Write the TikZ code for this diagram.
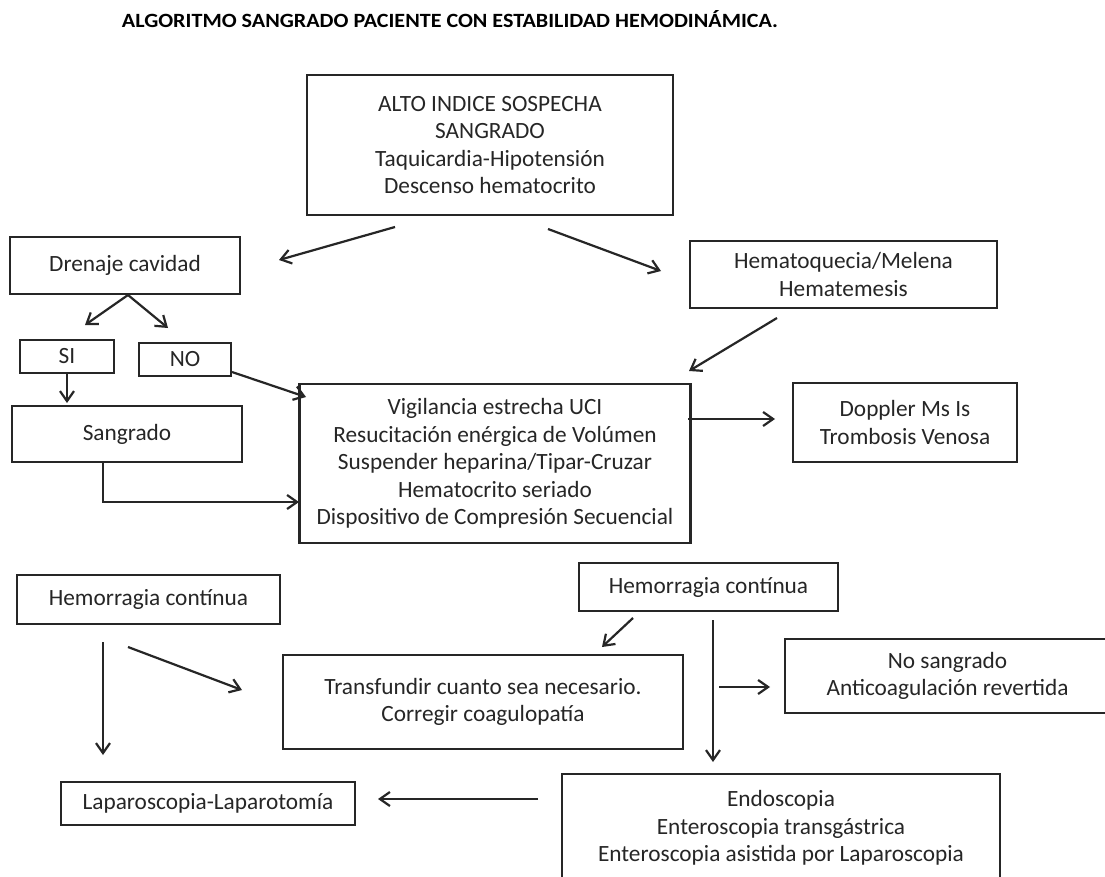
\documentclass[tikz,border=0pt]{standalone}
\usepackage{fontspec}
\setmainfont{Carlito}
\usetikzlibrary{arrows.meta}

\tikzset{
  box/.style={draw=black!85, line width=2.2pt, inner sep=0pt, align=center,
    font=\fontsize{23.3}{27.5}\selectfont, text=black!85},
  link/.style={draw=black!85, line width=2.2pt,
    -{Straight Barb[length=10pt,width=14pt,line width=2.2pt]}},
}

\begin{document}
\begin{tikzpicture}[x=1pt,y=-1pt]
\useasboundingbox (0,0) rectangle (1105,877);
\clip (0,0) rectangle (1105,877);
\fill[white] (0,0) rectangle (1105,877);

% heading
\node[anchor=base, inner sep=0pt] (title) at (450,28)
  {\resizebox{656pt}{17pt}{\bfseries ALGORITMO SANGRADO PACIENTE CON ESTABILIDAD HEMODINÁMICA.}};

% boxes
\node[box, minimum width=366pt, minimum height=140pt] (alto) at (490,145)
  {ALTO INDICE SOSPECHA\\SANGRADO\\Taquicardia-Hipotensión\\Descenso hematocrito};
\node[box, minimum width=230pt, minimum height=57pt] (dren) at (125,265.5) {Drenaje cavidad};
\node[box, minimum width=307pt, minimum height=67pt] (hemat) at (843.5,274.5)
  {Hematoquecia/Melena\\Hematemesis};
\node[box, minimum width=94pt, minimum height=33pt] (si) at (67,356.5) {SI};
\node[box, minimum width=92pt, minimum height=33pt] (no) at (185,359.5) {NO};
\node[box, minimum width=230pt, minimum height=56pt] (sang) at (127,434) {Sangrado};
\node[box, minimum width=391pt, minimum height=159pt] (vig) at (495,463.5)
  {Vigilancia estrecha UCI\\Resucitación enérgica de Volúmen\\Suspender heparina/Tipar-Cruzar\\Hematocrito seriado\\Dispositivo de Compresión Secuencial};
\node[box, minimum width=224pt, minimum height=79pt] (dopp) at (905,422.5)
  {Doppler Ms Is\\Trombosis Venosa};
\node[box, minimum width=263pt, minimum height=49pt] (hemL) at (148.5,599.5) {Hemorragia contínua};
\node[box, minimum width=259pt, minimum height=48pt] (hemR) at (708.5,587) {Hemorragia contínua};
\node[box, minimum width=400pt, minimum height=94pt] (transf) at (483,702)
  {Transfundir cuanto sea necesario.\\Corregir coagulopatía};
\node[box, minimum width=325pt, minimum height=74pt] (nosang) at (947.5,676)
  {No sangrado\\Anticoagulación revertida};
\node[box, minimum width=294pt, minimum height=43pt] (lap) at (208,803.5) {Laparoscopia-Laparotomía};
\node[box, minimum width=438pt, minimum height=108pt] (endo) at (781,828)
  {Endoscopia\\Enteroscopia transgástrica\\Enteroscopia asistida por Laparoscopia};

% connector end points
\coordinate (p1s) at (395,227);   \coordinate (p1e) at (279,260);
\coordinate (p2s) at (548,229);   \coordinate (p2e) at (661,271);
\coordinate (p3s) at (128,295);   \coordinate (p3e) at (85,325);
\coordinate (p4e) at (168,328);
\coordinate (p5s) at (67,373);    \coordinate (p5e) at (67,403);
\coordinate (p6s) at (232,372);   \coordinate (p6e) at (306,397);
\coordinate (p7s) at (103,462);   \coordinate (p7e) at (299,502);
\coordinate (p8s) at (777,318);   \coordinate (p8e) at (689,371);
\coordinate (p9s) at (688,419);   \coordinate (p9e) at (775,419);
\coordinate (p10s) at (103,642);  \coordinate (p10e) at (103,755);
\coordinate (p11s) at (128,647);  \coordinate (p11e) at (242,690);
\coordinate (p12s) at (633,618);  \coordinate (p12e) at (602,647);
\coordinate (p13s) at (713,620);  \coordinate (p13e) at (713,762);
\coordinate (p14s) at (719,687);  \coordinate (p14e) at (770,687);
\coordinate (p15s) at (538,799);  \coordinate (p15e) at (378,799);

% connectors
\draw[link] (p1s) -- (p1e);
\draw[link] (p2s) -- (p2e);
\draw[link] (p3s) -- (p3e);
\draw[link] (p3s) -- (p4e);
\draw[link] (p5s) -- (p5e);
\draw[link] (p6s) -- (p6e);
\draw[link] (p7s) |- (p7e);
\draw[link] (p8s) -- (p8e);
\draw[link] (p9s) -- (p9e);
\draw[link] (p10s) -- (p10e);
\draw[link] (p11s) -- (p11e);
\draw[link] (p12s) -- (p12e);
\draw[link] (p13s) -- (p13e);
\draw[link] (p14s) -- (p14e);
\draw[link] (p15s) -- (p15e);
\end{tikzpicture}
\end{document}
